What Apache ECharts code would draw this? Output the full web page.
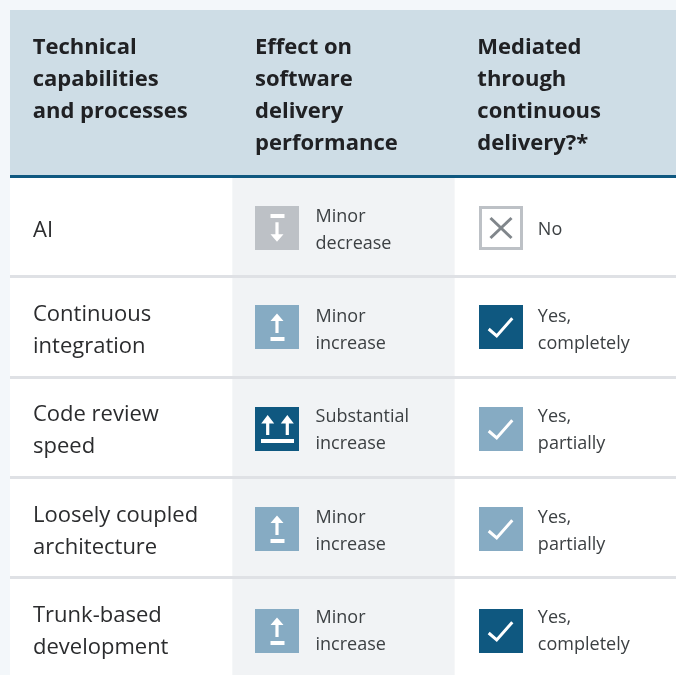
<!DOCTYPE html>
<html><head><meta charset="utf-8">
<style>html,body{margin:0;padding:0;background:#f3f7fa}#c{width:676px;height:675px}</style>
<script src="https://cdn.jsdelivr.net/npm/echarts@6/dist/echarts.min.js"></script>
</head><body><div id="c"></div>
<script>
const FONT = '"Open Sans", sans-serif';
const columns = ['Technical\ncapabilities\nand processes', 'Effect on\nsoftware\ndelivery\nperformance', 'Mediated\nthrough\ncontinuous\ndelivery?*'];
const capabilities = ['AI', 'Continuous\nintegration', 'Code review\nspeed', 'Loosely coupled\narchitecture', 'Trunk-based\ndevelopment'];
const effects = ['Minor\ndecrease', 'Minor\nincrease', 'Substantial\nincrease', 'Minor\nincrease', 'Minor\nincrease'];
const mediated = ['No', 'Yes,\ncompletely', 'Yes,\npartially', 'Yes,\npartially', 'Yes,\ncompletely'];

const DARK = '#0f5880', MID = '#86abc3', GREY = '#bdc1c6';
const TEXT = '#3c4043';
const WHITE = { fill: '#fff' };
const iconNudge = [1.45, 0.15, 1.85, 1.55, 3.25];

function poly(points, x, y, style) {
  return { type: 'polygon', shape: { points: points.map(p => [x + p[0], y + p[1]]) }, style };
}
function upArrow(cx, tip, base, end) {
  return [[cx, tip], [cx + 6.5, base], [cx + 1.6, base], [cx + 1.6, end], [cx - 1.6, end], [cx - 1.6, base], [cx - 6.5, base]];
}
function box(x, y, fill) {
  return { type: 'rect', shape: { x, y, width: 44, height: 44 }, style: { fill } };
}
function effectIcon(label, x, y) {
  if (label.startsWith('Substantial')) {
    return [box(x, y, DARK),
      poly(upArrow(12.7, 8, 16.5, 28), x, y, WHITE),
      poly(upArrow(32.3, 8, 16.5, 28), x, y, WHITE),
      { type: 'rect', shape: { x: x + 6, y: y + 32, width: 33, height: 4 }, style: WHITE }];
  }
  if (label.endsWith('decrease')) {
    return [box(x, y, GREY),
      poly(upArrow(22, 8.5, 16, 28).map(p => [p[0], 44.2 - p[1]]), x, y, WHITE),
      { type: 'rect', shape: { x: x + 15.5, y: y + 8, width: 14, height: 4 }, style: WHITE }];
  }
  return [box(x, y, MID),
    poly(upArrow(22, 8.5, 16, 28), x, y, WHITE),
    { type: 'rect', shape: { x: x + 15.5, y: y + 32, width: 14, height: 4 }, style: WHITE }];
}
function mediatedIcon(label, x, y) {
  if (label === 'No') {
    const s = { stroke: '#80868b', lineWidth: 3, fill: null };
    return [{ type: 'rect', shape: { x: x + 1.5, y: y + 1.5, width: 41, height: 41 }, style: { fill: '#fff', stroke: GREY, lineWidth: 3 } },
      { type: 'line', shape: { x1: x + 11.5, y1: y + 12, x2: x + 32.5, y2: y + 32 }, style: s },
      { type: 'line', shape: { x1: x + 32.5, y1: y + 12, x2: x + 11.5, y2: y + 32 }, style: s }];
  }
  return [box(x, y, label.includes('completely') ? DARK : MID),
    { type: 'polyline', shape: { points: [[x + 9.7, y + 24], [x + 17.7, y + 31], [x + 33.3, y + 13.3]] }, style: { stroke: '#fff', lineWidth: 3, fill: null } }];
}
function renderCell(params, api) {
  const col = api.value(0), row = api.value(1);
  const c = api.coord([col, row]);
  const w = api.size([1, 0])[0];
  const left = c[0] - w / 2, cy = c[1];
  const iy = Math.round(cy + iconNudge[row] - 22);
  const label = col === 1 ? effects[row] : mediated[row];
  const iconX = Math.round(left + (col === 1 ? 23 : 24.4));
  const icon = col === 1 ? effectIcon(label, iconX, iy) : mediatedIcon(label, iconX, iy);
  return { type: 'group', children: icon.concat([{
    type: 'text',
    style: { x: left + 83.2, y: cy + 3.5, text: label, fill: TEXT, font: '18px ' + FONT, lineHeight: 27, verticalAlign: 'middle', align: 'left' }
  }]) };
}
const cells = [];
capabilities.forEach((_, r) => { cells.push([1, r], [2, r]); });

const chart = echarts.init(document.getElementById('c'));
chart.setOption({
  animation: false,
  backgroundColor: '#f3f7fa',
  graphic: [{ type: 'rect', z: 0, shape: { x: 10, y: 10, width: 666, height: 166 }, style: { fill: '#cedde6' } }],
  grid: { left: 10, top: 176.4, width: 667, height: 501.5, outerBoundsMode: 'none', show: true, backgroundColor: '#fff', borderWidth: 0 },
  xAxis: {
    type: 'category', position: 'top', data: columns, z: 0,
    axisLine: { show: true, lineStyle: { color: DARK, width: 3, cap: 'butt' } },
    axisTick: { show: false },
    splitLine: { show: false },
    splitArea: { show: true, areaStyle: { color: ['rgba(0,0,0,0)', '#f1f3f5', 'rgba(0,0,0,0)'], opacity: 1 } },
    axisLabel: {
      interval: 0, margin: 17, align: 'center', verticalAlign: 'bottom', z: 5,
      formatter: v => { const l = v.split('\n'); while (l.length < 4) l.push(' '); return l.map(t => '{h|' + t + '}').join('\n'); },
      rich: { h: { width: 177, align: 'left', fontFamily: FONT, fontSize: 22, fontWeight: 700, lineHeight: 32, color: '#202124' } }
    }
  },
  yAxis: {
    type: 'category', inverse: true, data: capabilities, z: 1,
    axisLine: { show: false }, axisTick: { show: false },
    splitLine: { show: true, showMinLine: false, lineStyle: { color: '#dfe1e5', width: 3 } },
    axisLabel: {
      inside: true, margin: 23, interval: 0, align: 'left',
      formatter: v => '{s| }\n' + v.split('\n').map(t => '{l|' + t + '}').join('\n'),
      rich: {
        s: { fontSize: 8, lineHeight: 8 },
        l: { fontFamily: FONT, fontSize: 22, lineHeight: 32, color: '#2b2c2e' }
      }
    }
  },
  series: [{ type: 'custom', data: cells, renderItem: renderCell, clip: false, silent: true, encode: { x: 0, y: 1 } }]
});
</script></body></html>
